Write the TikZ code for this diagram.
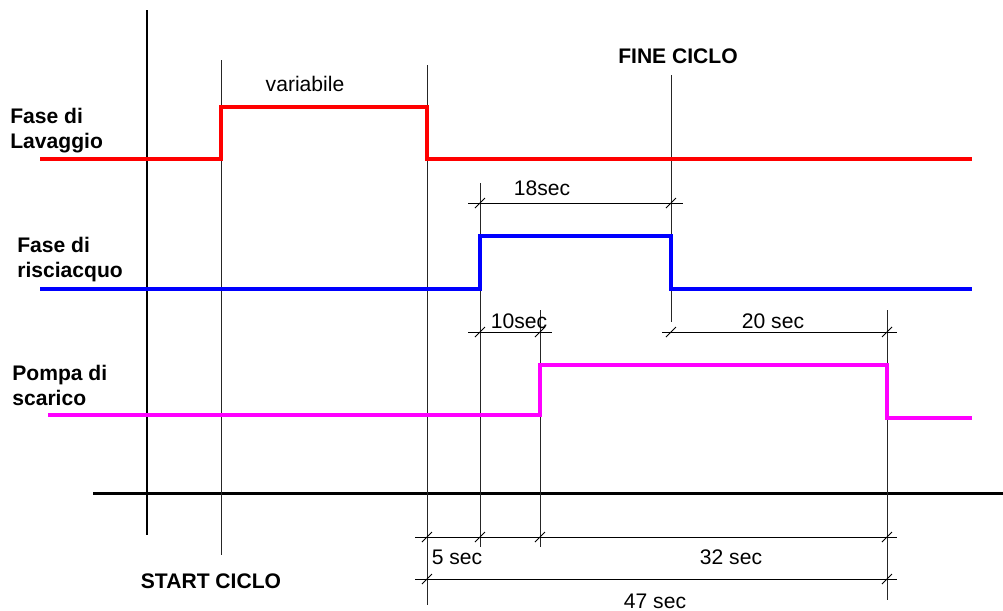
\documentclass[tikz,border=0pt]{standalone}
\usepackage{fontspec}
\setmainfont{Liberation Sans}
\definecolor{pompa}{RGB}{255,0,255}
\begin{document}
\begin{tikzpicture}[x=0.02cm, y=-0.02cm, line join=miter,
    sig/.style={line width=1.9pt},
    axis/.style={line width=1.7pt, black},
    guide/.style={line width=0.5pt, black!85},
    dim/.style={line width=0.5pt, black},
    lbl/.style={font=\fontsize{12}{14.5}\selectfont, inner sep=0pt, anchor=base},
    title/.style={font=\fontsize{12}{14.5}\selectfont\bfseries, inner sep=0pt, align=left, anchor=north west}]
    \useasboundingbox (0,0) rectangle (1003,610);
    % axes
    \draw[axis] (147,10) -- (147,535);
    \draw[axis] (93,493) -- (1003,493);
    % guide lines
    \draw[guide] (221,60) -- (221,555);
    \draw[guide] (427,65) -- (427,605);
    \draw[guide] (480,183) -- (480,547);
    \draw[guide] (540,310) -- (540,547);
    \draw[guide] (671,75) -- (671,322);
    \draw[guide] (887,310) -- (887,600);
    % signals
    \draw[sig, red] (40,159) -- (221,159) -- (221,107) -- (427,107) -- (427,159) -- (972,159);
    \draw[sig, blue] (40,289) -- (480,289) -- (480,236) -- (671,236) -- (671,289) -- (972,289);
    \draw[sig, pompa] (48,415) -- (540,415) -- (540,365) -- (887,365) -- (887,418) -- (972,418);
    % dimension lines
    \draw[dim] (468,203) -- (683,203);
    \draw[dim] (468,332) -- (552,332);
    \draw[dim] (662,332) -- (897,332);
    \draw[dim] (415,537) -- (897,537);
    \draw[dim] (415,579) -- (897,579);
    \foreach \x/\y in {480/203, 671/203, 480/332, 540/332, 671/332, 887/332,
                       427/537, 480/537, 540/537, 887/537, 427/579, 887/579}
        \draw[dim] (\x-5,\y+5) -- (\x+5,\y-5);
    % labels
    \node[title] (lav) at (10,107.5) {Fase di\\Lavaggio};
    \node[title] (ris) at (17,236.5) {Fase di\\risciacquo};
    \node[title] (pom) at (12,364.5) {Pompa di\\scarico};
    \node[lbl] (var) at (305,91) {variabile};
    \node[lbl, font=\fontsize{12}{14.5}\selectfont\bfseries] (fine) at (678,63) {FINE CICLO};
    \node[lbl, font=\fontsize{12}{14.5}\selectfont\bfseries] (start) at (211,588) {START CICLO};
    \node[lbl] (d18) at (542,195) {18sec};
    \node[lbl] (d10) at (519,328) {10sec};
    \node[lbl] (d20) at (773,328) {20 sec};
    \node[lbl] (d5) at (457,564) {5 sec};
    \node[lbl] (d32) at (731,564) {32 sec};
    \node[lbl] (d47) at (655,608) {47 sec};
\end{tikzpicture}
\end{document}
